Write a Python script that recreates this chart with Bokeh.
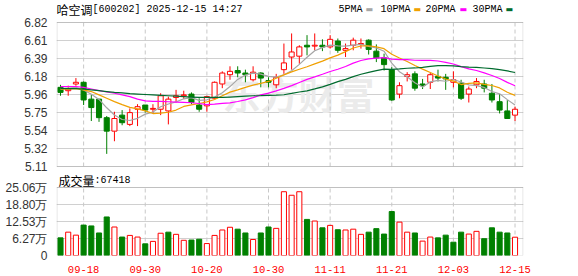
from bokeh.plotting import figure
from bokeh.layouts import column
from bokeh.models import Range1d, FixedTicker, Label, ColumnDataSource, BoxAnnotation
from bokeh.embed import file_html
from bokeh.resources import INLINE

# ---------------- data ----------------
stock_name = "哈空调"
stock_info = "[600202] 2025-12-15 14:27"

dates = ["09-15", "09-16", "09-17", "09-18", "09-19", "09-22", "09-23", "09-24", "09-25", "09-26",
         "09-29", "09-30", "10-09", "10-10", "10-13", "10-14", "10-15", "10-16", "10-17", "10-20",
         "10-21", "10-22", "10-23", "10-24", "10-27", "10-28", "10-29", "10-30", "10-31", "11-03",
         "11-04", "11-05", "11-06", "11-07", "11-10", "11-11", "11-12", "11-13", "11-14", "11-17",
         "11-18", "11-19", "11-20", "11-21", "11-24", "11-25", "11-26", "11-27", "11-28", "12-01",
         "12-02", "12-03", "12-04", "12-05", "12-08", "12-09", "12-10", "12-11", "12-12", "12-15"]

open_ = [6.05, 6.01, 6.09, 6.11, 5.91, 5.91, 5.69, 5.53, 5.72, 5.61,
         5.79, 5.84, 5.79, 5.79, 5.77, 5.93, 5.95, 5.97, 5.84, 5.83,
         5.92, 6.09, 6.20, 6.25, 6.22, 6.14, 6.22, 6.13, 6.08, 6.26,
         6.41, 6.42, 6.55, 6.54, 6.55, 6.53, 6.60, 6.49, 6.55, 6.56,
         6.61, 6.48, 6.40, 6.26, 5.97, 6.18, 6.21, 6.09, 6.11, 6.18,
         6.17, 6.11, 6.10, 5.97, 6.08, 6.09, 5.98, 5.88, 5.77, 5.72]
high = [6.08, 6.07, 6.16, 6.12, 5.96, 5.91, 5.71, 5.76, 5.78, 5.80,
        5.85, 5.84, 5.85, 5.98, 5.94, 6.02, 6.01, 5.99, 5.92, 5.95,
        6.12, 6.24, 6.30, 6.30, 6.26, 6.30, 6.23, 6.17, 6.21, 6.57,
        6.69, 6.55, 6.67, 6.69, 6.62, 6.67, 6.63, 6.57, 6.64, 6.63,
        6.62, 6.56, 6.45, 6.29, 6.11, 6.23, 6.24, 6.15, 6.22, 6.26,
        6.21, 6.24, 6.14, 6.06, 6.16, 6.14, 6.09, 5.97, 5.90, 5.82]
low = [5.95, 5.95, 6.07, 5.84, 5.65, 5.64, 5.26, 5.41, 5.60, 5.59,
       5.59, 5.75, 5.74, 5.72, 5.61, 5.87, 5.91, 5.85, 5.76, 5.76,
       5.92, 6.04, 6.14, 6.17, 6.11, 6.12, 6.05, 6.05, 6.04, 6.21,
       6.26, 6.33, 6.43, 6.49, 6.48, 6.51, 6.46, 6.41, 6.49, 6.51,
       6.44, 6.35, 6.25, 5.89, 5.92, 6.12, 6.01, 6.03, 6.03, 6.12,
       6.02, 6.05, 5.90, 5.87, 6.04, 5.99, 5.87, 5.74, 5.68, 5.65]
close = [5.99, 6.03, 6.11, 5.90, 5.81, 5.69, 5.53, 5.68, 5.63, 5.75,
         5.82, 5.78, 5.80, 5.95, 5.91, 5.95, 5.96, 5.87, 5.79, 5.94,
         6.11, 6.22, 6.24, 6.22, 6.20, 6.23, 6.16, 6.11, 6.17, 6.34,
         6.47, 6.53, 6.53, 6.55, 6.53, 6.62, 6.49, 6.51, 6.61, 6.57,
         6.50, 6.40, 6.32, 5.90, 6.07, 6.20, 6.04, 6.07, 6.20, 6.16,
         6.15, 6.14, 5.92, 6.03, 6.12, 6.04, 5.90, 5.78, 5.68, 5.79]

# volume in lots (手)
volume = [65000, 86000, 75000, 112000, 109000, 83000, 142000, 105000, 68000, 74000,
          68000, 43000, 52000, 82000, 86000, 78000, 56000, 57000, 60000, 44000,
          74000, 94000, 104000, 97000, 83000, 59000, 83000, 105000, 100000, 235000,
          222000, 235000, 133000, 127000, 102000, 111000, 95000, 94000, 97000, 78000,
          86000, 99000, 79000, 162000, 123000, 86000, 83000, 53000, 68000, 65000,
          75000, 49000, 86000, 79000, 89000, 62000, 102000, 86000, 83000, 67418]
# volume bar colour as seen: R = rising (red, hollow), G = falling (green, filled)
volume_dir = ["G", "R", "R", "G", "G", "G", "G", "R", "G", "R",
              "R", "G", "R", "R", "G", "R", "R", "G", "G", "R",
              "R", "R", "R", "G", "G", "R", "G", "G", "R", "R",
              "R", "R", "G", "R", "G", "R", "G", "R", "R", "R",
              "G", "G", "G", "G", "R", "R", "G", "R", "R", "G",
              "G", "G", "G", "R", "R", "G", "G", "G", "G", "R"]

ma5 = [6.030, 6.040, 6.050, 6.020, 5.967, 5.907, 5.807, 5.722, 5.668, 5.656,
       5.682, 5.732, 5.756, 5.820, 5.852, 5.878, 5.914, 5.928, 5.896, 5.902,
       5.934, 5.986, 6.059, 6.144, 6.195, 6.219, 6.207, 6.181, 6.172, 6.200,
       6.248, 6.323, 6.407, 6.484, 6.521, 6.551, 6.543, 6.540, 6.551, 6.560,
       6.536, 6.517, 6.479, 6.337, 6.235, 6.176, 6.104, 6.054, 6.114, 6.133,
       6.122, 6.143, 6.113, 6.079, 6.070, 6.049, 6.001, 5.973, 5.904, 5.839]
ma10 = [6.030, 6.030, 6.035, 6.020, 6.000, 5.960, 5.920, 5.880, 5.845, 5.812,
        5.794, 5.770, 5.739, 5.744, 5.754, 5.780, 5.823, 5.842, 5.858, 5.877,
        5.906, 5.950, 5.993, 6.020, 6.049, 6.077, 6.097, 6.120, 6.158, 6.198,
        6.234, 6.265, 6.294, 6.328, 6.361, 6.400, 6.433, 6.474, 6.517, 6.541,
        6.544, 6.530, 6.509, 6.444, 6.398, 6.356, 6.310, 6.266, 6.226, 6.184,
        6.149, 6.124, 6.083, 6.097, 6.102, 6.086, 6.072, 6.043, 5.991, 5.954]
ma20 = [6.058, 6.060, 6.060, 6.050, 6.030, 6.010, 5.995, 5.980, 5.960, 5.940,
        5.910, 5.890, 5.883, 5.883, 5.879, 5.875, 5.871, 5.867, 5.858, 5.844,
        5.850, 5.860, 5.866, 5.882, 5.901, 5.928, 5.960, 5.981, 6.008, 6.037,
        6.070, 6.108, 6.144, 6.174, 6.205, 6.238, 6.265, 6.297, 6.338, 6.369,
        6.389, 6.398, 6.402, 6.386, 6.379, 6.378, 6.372, 6.370, 6.371, 6.363,
        6.346, 6.327, 6.296, 6.270, 6.250, 6.221, 6.191, 6.155, 6.109, 6.069]
ma30 = [6.037, 6.035, 6.035, 6.030, 6.020, 6.010, 6.000, 5.990, 5.985, 5.975,
        5.970, 5.965, 5.960, 5.955, 5.950, 5.945, 5.940, 5.935, 5.930, 5.930,
        5.930, 5.930, 5.935, 5.940, 5.945, 5.950, 5.952, 5.955, 5.958, 5.962,
        5.978, 5.995, 6.009, 6.031, 6.055, 6.085, 6.118, 6.145, 6.178, 6.205,
        6.228, 6.248, 6.266, 6.264, 6.269, 6.277, 6.280, 6.287, 6.300, 6.308,
        6.309, 6.306, 6.296, 6.289, 6.287, 6.280, 6.272, 6.261, 6.245, 6.226]

ma_names = ["5PMA", "10PMA", "20PMA", "30PMA"]
ma_series = [ma5, ma10, ma20, ma30]
ma_colors = ["#a6a6a6", "#f0a000", "#ff00ff", "#006b2e"]

price_min, price_max = 5.11, 6.82
price_tick_labels = ["5.11", "5.32", "5.54", "5.75", "5.96", "6.18", "6.39", "6.61", "6.82"]
vol_max = 250600
vol_tick_labels = ["0", "6.27万", "12.53万", "18.80万", "25.06万"]
x_tick_dates = ["09-18", "09-30", "10-20", "10-30", "11-11", "11-21", "12-03", "12-15"]
vol_label = "成交量"

# ---------------- layout constants (canvas pixels) ----------------
W = 578
H1, H2 = 173, 103
FL, FR = 56, 523                 # plot box left/right
P_TOP, P_BOT = 22, 166           # price box top/bottom
V_TOP, V_BOT = 187, 255          # volume box top/bottom
X0, X1 = -0.52, 60.1
RED, GREEN = "#ff0000", "#008000"
BORDER = "#9a9a9a"
BODY_W = 0.66

p_per_px = (price_max - price_min) / (P_BOT - P_TOP)
v_per_px = vol_max / (V_BOT - V_TOP)


def dx(px):
    return X0 + (px - FL) * (X1 - X0) / (FR - FL)


def dy1(py):
    return price_max - (py - P_TOP) * p_per_px


def dy2(py):
    return vol_max - (py - V_TOP) * v_per_px


n = len(dates)
idx = list(range(n))
tick_idx = [dates.index(d) for d in x_tick_dates]

up = [c >= o for o, c in zip(open_, close)]
src = ColumnDataSource(dict(
    x=idx, high=high, low=low,
    top=[max(o, c) for o, c in zip(open_, close)],
    bottom=[min(o, c) for o, c in zip(open_, close)],
    line=[RED if u else GREEN for u in up],
    fill=["#ffffff" if u else GREEN for u in up],
))
vsrc = ColumnDataSource(dict(
    x=idx, vol=volume,
    line=[RED if d == "R" else GREEN for d in volume_dir],
    fill=["#ffffff" if d == "R" else GREEN for d in volume_dir],
))

x_range = Range1d(X0, X1)

# ---------------- main (price) figure: canvas y 0..173 ----------------
p1 = figure(width=W, height=H1, x_range=x_range,
            y_range=Range1d(dy1(H1), dy1(0)),
            output_backend="svg", toolbar_location=None,
            min_border_left=FL, min_border_right=W - FR,
            min_border_top=0, min_border_bottom=0)

# watermark
p1.add_layout(Label(x=dx(298), y=dy1(92), text="东方财富", text_font="Noto Sans CJK SC",
                    text_font_size="38px", text_font_style="bold", text_color="#ebebeb",
                    text_align="center", text_baseline="middle", level="underlay"))

# dashed vertical grid at date ticks
p1.segment(x0=tick_idx, y0=[price_min] * len(tick_idx), x1=tick_idx, y1=[price_max] * len(tick_idx),
           line_color="#c8c8c8", line_dash="4 3", line_width=1)

p1.segment(x0="x", y0="low", x1="x", y1="high", line_color="line", line_width=1, source=src)
p1.vbar(x="x", top="top", bottom="bottom", width=BODY_W, fill_color="fill",
        line_color="line", line_width=1, source=src)
for s, c in zip(ma_series, ma_colors):
    p1.line(idx, s, line_color=c, line_width=1.2)

p1.add_layout(BoxAnnotation(left=dx(FL + 0.5), right=dx(FR - 0.5), bottom=price_min, top=price_max,
                            fill_alpha=0, line_color=BORDER, line_width=1, level="overlay"))

price_ticks = [price_min + k * (price_max - price_min) / (len(price_tick_labels) - 1)
               for k in range(len(price_tick_labels))]

# title
p1.add_layout(Label(x=dx(56), y=dy1(9), text=stock_name, text_font="Noto Sans CJK SC",
                    text_font_size="12px", text_color="#000000", text_baseline="middle"))
p1.add_layout(Label(x=dx(92), y=dy1(9), text=stock_info, text_font="Liberation Mono",
                    text_font_size="10px", text_color="#000000", text_baseline="middle"))

# legend
legend_text_x = [338, 380, 425, 472]
legend_mark_x = [365, 413, 459, 505]
for name, c, tx, mx in zip(ma_names, ma_colors, legend_text_x, legend_mark_x):
    p1.add_layout(Label(x=dx(tx), y=dy1(9), text=name, text_font="Liberation Mono",
                        text_font_size="10px", text_color="#000000", text_baseline="middle"))
    p1.add_layout(Label(x=dx(mx), y=dy1(9), text="▬", text_font="DejaVu Sans",
                        text_font_size="8px", text_color=c, text_baseline="middle"))

# ---------------- volume figure: canvas y 173..276 ----------------
p2 = figure(width=W, height=H2, x_range=x_range,
            y_range=Range1d(0, dy2(H1)),
            output_backend="svg", toolbar_location=None,
            min_border_left=FL, min_border_right=W - FR,
            min_border_top=0, min_border_bottom=H1 + H2 - V_BOT)
p2.segment(x0=tick_idx, y0=[0] * len(tick_idx), x1=tick_idx, y1=[vol_max] * len(tick_idx),
           line_color="#c8c8c8", line_dash="4 3", line_width=1)
p2.vbar(x="x", top="vol", bottom=0, width=BODY_W, fill_color="fill",
        line_color="line", line_width=1, source=vsrc)
p2.add_layout(BoxAnnotation(left=dx(FL + 0.5), right=dx(FR - 0.5), bottom=0, top=vol_max,
                            fill_alpha=0, line_color=BORDER, line_width=1, level="overlay"))
vol_ticks = [k * vol_max / (len(vol_tick_labels) - 1) for k in range(len(vol_tick_labels))]

p2.add_layout(Label(x=dx(58), y=dy2(179.5), text=vol_label, text_font="Noto Sans CJK SC",
                    text_font_size="12px", text_color="#000000", text_baseline="middle"))
p2.add_layout(Label(x=dx(94), y=dy2(179.5), text=":" + str(volume[-1]), text_font="Liberation Mono",
                    text_font_size="10px", text_color="#000000", text_baseline="middle"))

# ---------------- styling ----------------
for p, ticks, labels in ((p1, price_ticks, price_tick_labels), (p2, vol_ticks, vol_tick_labels)):
    p.background_fill_color = "#ffffff"
    p.border_fill_color = "#ffffff"
    p.outline_line_color = None
    ya = p.yaxis[0]
    ya.ticker = FixedTicker(ticks=ticks)
    ya.major_label_overrides = {t: s for t, s in zip(ticks, labels)}
    ya.axis_line_color = None
    ya.major_tick_line_color = None
    ya.minor_tick_line_color = None
    ya.major_label_text_font = "Liberation Sans"
    ya.major_label_text_font_size = "12px"
    ya.major_label_text_color = "#333333"
    ya.major_label_standoff = 3
    p.ygrid.ticker = FixedTicker(ticks=ticks)
    p.ygrid.grid_line_color = "#d0d0d0"
    p.ygrid.grid_line_width = 1
    p.xgrid.visible = False

p1.xaxis.visible = False

xa = p2.xaxis[0]
xa.ticker = FixedTicker(ticks=tick_idx)
xa.major_label_overrides = {i: d for i, d in zip(tick_idx, x_tick_dates)}
xa.axis_line_color = None
xa.major_tick_line_color = None
xa.minor_tick_line_color = None
xa.major_label_text_color = RED
xa.major_label_text_font = "Liberation Mono"
xa.major_label_text_font_size = "10.5px"
xa.major_label_standoff = 4

layout = column(p1, p2, spacing=0)
open("out.html", "w").write(file_html(layout, INLINE))
